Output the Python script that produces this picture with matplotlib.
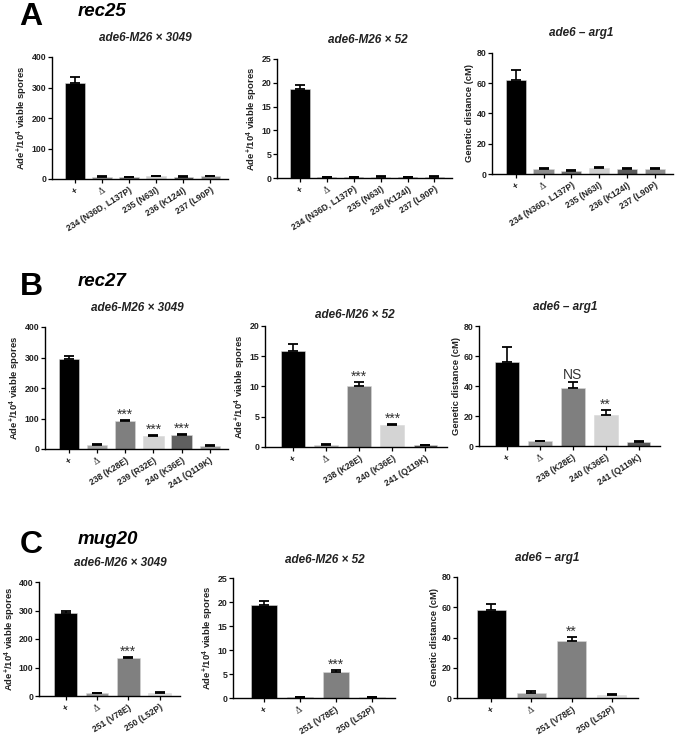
import numpy as np
import matplotlib
matplotlib.use("Agg")
import matplotlib.pyplot as plt

plt.rcParams['font.family'] = ['Liberation Sans', 'DejaVu Sans']
plt.rcParams['mathtext.default'] = 'regular'

# ---- data ----
# rec25
rec25_strains = ['+', 'Δ', '234 (N36D, L137P)', '235 (N63I)', '236 (K124I)', '237 (L90P)']
rec25_3049 = [315, 7, 5, 9, 7, 9]
rec25_3049_err = [20, 2, 2, 2, 2, 2]
rec25_52 = [18.6, 0.2, 0.2, 0.25, 0.2, 0.25]
rec25_52_err = [1.0, 0.1, 0.1, 0.1, 0.1, 0.1]
rec25_arg1 = [62, 3.2, 2.0, 4.0, 3.2, 3.3]
rec25_arg1_err = [7, 0.6, 0.5, 0.7, 0.6, 0.8]

# rec27
rec27_strains_a = ['+', 'Δ', '238 (K28E)', '239 (R32E)', '240 (K36E)', '241 (Q119K)']
rec27_3049 = [295, 14, 93, 42, 45, 10]
rec27_3049_err = [10, 2, 3, 3, 3, 2]
rec27_3049_sig = ['', '', '***', '***', '***', '']
rec27_strains_b = ['+', 'Δ', '238 (K28E)', '240 (K36E)', '241 (Q119K)']
rec27_52 = [15.9, 0.3, 10.0, 3.6, 0.25]
rec27_52_err = [1.2, 0.15, 0.8, 0.2, 0.15]
rec27_52_sig = ['', '', '***', '***', '']
rec27_arg1 = [56, 3.2, 39, 21, 3.0]
rec27_arg1_err = [10, 0.4, 3.5, 3, 0.5]
rec27_arg1_sig = ['', '', 'NS', '**', '']

# mug20
mug20_strains = ['+', 'Δ', '251 (V78E)', '250 (L52P)']
mug20_3049 = [292, 10, 133, 11]
mug20_3049_err = [8, 2, 5, 2]
mug20_52 = [19.3, 0.2, 5.5, 0.2]
mug20_52_err = [1.0, 0.1, 0.3, 0.1]
mug20_arg1 = [58, 3.5, 38, 2.0]
mug20_arg1_err = [4, 1.2, 2.5, 0.6]
mug20_sig_a = ['', '', '***', '']
mug20_sig_b = ['', '', '**', '']

# ---- styles ----
cols_a = ['black', '#8c8c8c', '#6e6e6e', '#cfcfcf', '#5a5a5a', '#8c8c8c']
cols_b1 = ['black', '#a6a6a6', '#7f7f7f', '#d4d4d4', '#606060', '#a0a0a0']
cols_b2 = ['black', '#b0b0b0', '#7f7f7f', '#d4d4d4', '#555555']
cols_b3 = ['black', '#999999', '#7f7f7f', '#d4d4d4', '#555555']
cols_c = ['black', '#999999', '#808080', '#dddddd']

ade_label = r'Ade$^{+}$/10$^{4}$ viable spores'
gen_label = 'Genetic distance (cM)'

W, H = 675, 735
fig = plt.figure(figsize=(6.75, 7.35), dpi=100)


def px_axes(x0, x1, ytop, ybot):
    return fig.add_axes([x0 / W, 1 - ybot / H, (x1 - x0) / W, (ybot - ytop) / H])


def bar_panel(rect, labels, vals, errs, colors, ymax, ystep, ylabel, title, title_xy,
              sig=None, ylabel_px=None):
    ax = px_axes(*rect)
    x = np.arange(len(labels))
    ax.bar(x, vals, width=0.72, color=colors, edgecolor='#d8d8d8', linewidth=0.4, zorder=2)
    ax.errorbar(x, vals, yerr=[np.zeros(len(vals)), errs], fmt='none',
                ecolor='black', elinewidth=1.2, capsize=3.5, capthick=1.3, zorder=3)
    ax.set_xlim(-0.85, len(labels) - 0.35)
    ax.set_ylim(0, ymax)
    ax.set_yticks(np.arange(0, ymax + ystep / 2, ystep))
    ax.set_xticks(x)
    ax.set_xticklabels(labels, rotation=32, ha='right', rotation_mode='anchor',
                       fontsize=6.2, fontweight='bold', color='#222222')
    for t in ax.get_xticklabels():
        if t.get_text() == 'Δ':
            t.set_fontweight('normal')
            t.set_family(['DejaVu Serif'])
    ax.tick_params(axis='y', labelsize=6.3, length=3, width=0.9, pad=1)
    ax.tick_params(axis='x', length=3, width=0.9, pad=2)
    for t in ax.get_yticklabels():
        t.set_fontweight('bold')
        t.set_color('#222222')
    for s in ['top', 'right']:
        ax.spines[s].set_visible(False)
    for s in ['left', 'bottom']:
        ax.spines[s].set_linewidth(1.0)
    ax.set_ylabel(ylabel, fontsize=6.8, fontweight='bold', labelpad=1.5, color='#222222')
    if ylabel_px is not None:
        ax.yaxis.set_label_coords((ylabel_px - rect[0]) / (rect[1] - rect[0]), 0.5)
    if sig is not None:
        for xi, v, e, s in zip(x, vals, errs, sig):
            if s:
                ax.text(xi, v + e + ymax * (0.005 if s == 'NS' else -0.015), s,
                        ha='center', va='bottom', fontsize=10, color='#333333')
    fig.text(title_xy[0] / W, 1 - title_xy[1] / H, title, ha='center', va='center',
             fontsize=8.5, fontweight='bold', style='italic', color='#222222')
    return ax


t3049 = 'ade6-M26 × 3049'
t52 = 'ade6-M26 × 52'
targ = 'ade6 – arg1'

# panel A
bar_panel((52, 228, 57, 179), rec25_strains, rec25_3049, rec25_3049_err, cols_a,
          400, 100, ade_label, t3049, (145, 38))
bar_panel((277, 452, 59, 178), rec25_strains, rec25_52, rec25_52_err, cols_a,
          25, 5, ade_label, t52, (368, 40))
bar_panel((492, 673, 53, 174), rec25_strains, rec25_arg1, rec25_arg1_err, cols_a,
          80, 20, gen_label, targ, (581, 33))

# panel B
bar_panel((45, 228, 327, 449), rec27_strains_a, rec27_3049, rec27_3049_err, cols_b1,
          400, 100, ade_label, t3049, (137, 308), rec27_3049_sig)
bar_panel((265, 447, 326, 447), rec27_strains_b, rec27_52, rec27_52_err, cols_b2,
          20, 5, ade_label, t52, (355, 315), rec27_52_sig)
bar_panel((479, 660, 326, 446), rec27_strains_b, rec27_arg1, rec27_arg1_err, cols_b3,
          80, 20, gen_label, targ, (565, 307), rec27_arg1_sig)

# panel C
bar_panel((39, 180, 582, 696), mug20_strains, mug20_3049, mug20_3049_err, cols_c,
          400, 100, ade_label, t3049, (120, 563), mug20_sig_a, ylabel_px=18)
bar_panel((233, 395, 578, 698), mug20_strains, mug20_52, mug20_52_err, cols_c,
          25, 5, ade_label, t52, (325, 560), mug20_sig_a)
bar_panel((457, 638, 577, 698), mug20_strains, mug20_arg1, mug20_arg1_err, cols_c,
          80, 20, gen_label, targ, (547, 558), mug20_sig_b)

# panel letters and gene names
for letter, gene, y in [('A', 'rec25', 17), ('B', 'rec27', 287), ('C', 'mug20', 545)]:
    fig.text(31 / W, 1 - y / H, letter, fontsize=23, fontweight='bold', ha='center', va='center')
    fig.text(78 / W, 1 - (y - 5) / H, gene, fontsize=13.5, fontweight='bold', style='italic',
             ha='left', va='center')

fig.savefig('out.png', dpi=100, facecolor='white')
